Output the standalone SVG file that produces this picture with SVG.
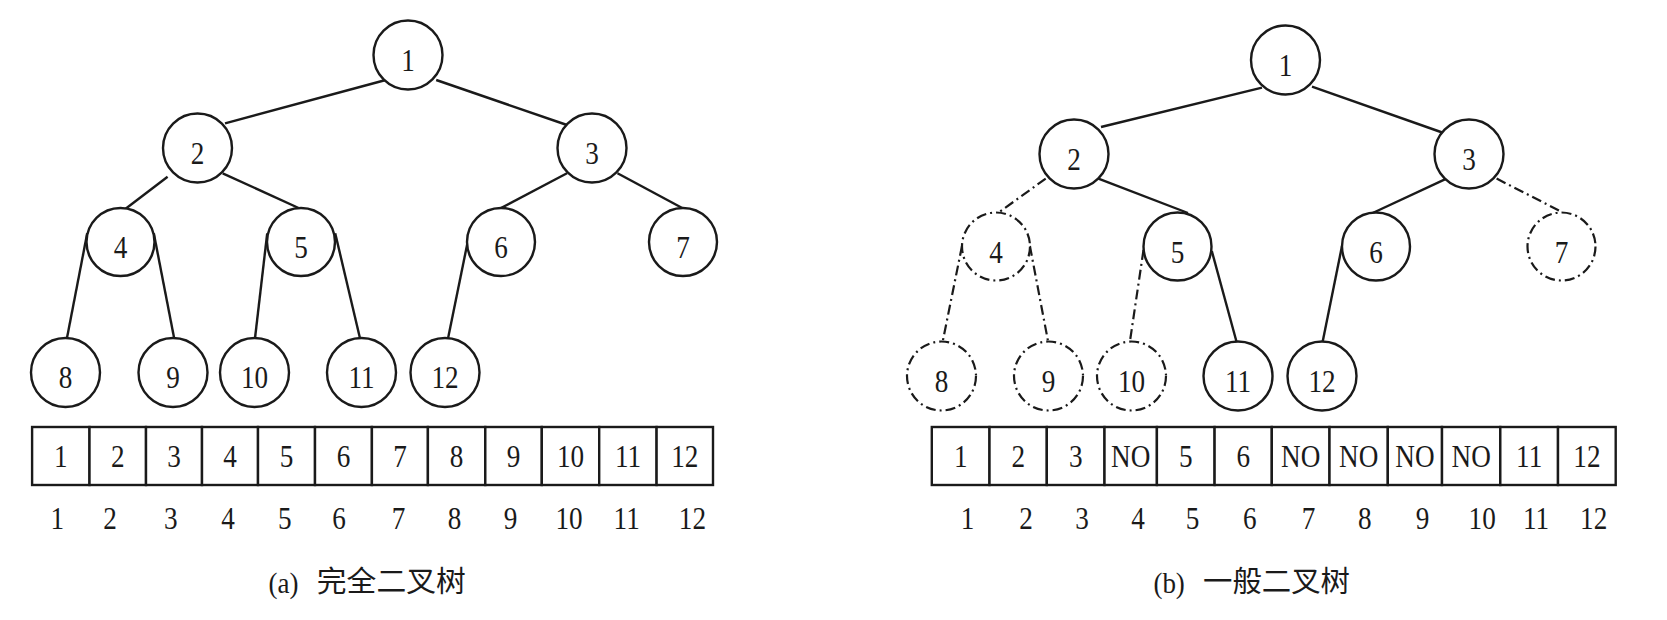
<svg xmlns="http://www.w3.org/2000/svg" width="1667" height="620" viewBox="0 0 1667 620">
<style>
.n{fill:#fff;stroke:#1a1a1a;stroke-width:2.4}
.d{fill:#fff;stroke:#1a1a1a;stroke-width:2.2;stroke-dasharray:10 4 2 4}
.e{stroke:#1a1a1a;stroke-width:2.4;fill:none}
.ed{stroke:#1a1a1a;stroke-width:2.2;fill:none;stroke-dasharray:10 4 2 4}
.t{font-family:"Liberation Serif","Times New Roman",serif;font-size:32px;fill:#1a1a1a;text-anchor:middle}
.c{fill:#fff;stroke:#1a1a1a;stroke-width:2.4}
.cap{font-family:"Liberation Serif",serif;font-size:30px;fill:#1a1a1a}
.cj{font-family:"Noto Sans CJK SC","Noto Sans",sans-serif;font-size:29px;fill:#1a1a1a}
</style>
<rect width="1667" height="620" fill="#fff"/>

<!-- Left tree connectors -->
<g id="edges-a">
<line class="e" x1="385.7" y1="80" x2="225" y2="123.3"/>
<line class="e" x1="436.2" y1="80" x2="567" y2="125"/>
<line class="e" x1="167.6" y1="176.7" x2="124" y2="210"/>
<line class="e" x1="222.7" y1="173.3" x2="303" y2="210"/>
<line class="e" x1="567" y1="173.3" x2="500.5" y2="208.3"/>
<line class="e" x1="617.5" y1="173.3" x2="682.7" y2="208.3"/>
<line class="e" x1="87.2" y1="233.3" x2="66.6" y2="340"/>
<line class="e" x1="153.8" y1="233.3" x2="174.5" y2="340"/>
<line class="e" x1="267.2" y1="233.3" x2="254.8" y2="340"/>
<line class="e" x1="335.2" y1="233.3" x2="360.4" y2="340"/>
<line class="e" x1="467.4" y1="243.3" x2="447.7" y2="340"/>
</g>

<!-- Right tree connectors -->
<g id="edges-b">
<line class="e" x1="1262" y1="87.7" x2="1101" y2="127"/>
<line class="e" x1="1312" y1="86.7" x2="1446.5" y2="134"/>
<line class="ed" x1="1045.7" y1="178.6" x2="998" y2="213"/>
<line class="e" x1="1098.4" y1="178.6" x2="1188" y2="213"/>
<line class="e" x1="1446.5" y1="178.6" x2="1372.7" y2="213"/>
<line class="ed" x1="1496.6" y1="178.6" x2="1560" y2="211"/>
<line class="ed" x1="962" y1="246" x2="942.8" y2="341"/>
<line class="ed" x1="1029.9" y1="246" x2="1048" y2="341"/>
<line class="ed" x1="1143.5" y1="250" x2="1130" y2="341"/>
<line class="e" x1="1211.8" y1="251" x2="1236.6" y2="342"/>
<line class="e" x1="1342" y1="246" x2="1322.6" y2="342"/>
</g>

<!-- Left tree nodes -->
<g id="a1"><circle class="n" cx="408" cy="55" r="34.5"/><text class="t" transform="translate(408 71) scale(0.85 1)">1</text></g>
<g id="a2"><circle class="n" cx="197.5" cy="148" r="34.5"/><text class="t" transform="translate(197.5 164) scale(0.85 1)">2</text></g>
<g id="a3"><circle class="n" cx="592" cy="148" r="34.5"/><text class="t" transform="translate(592 164) scale(0.85 1)">3</text></g>
<g id="a4"><circle class="n" cx="120.5" cy="242" r="34"/><text class="t" transform="translate(120.5 258) scale(0.85 1)">4</text></g>
<g id="a5"><circle class="n" cx="301" cy="242" r="34"/><text class="t" transform="translate(301 258) scale(0.85 1)">5</text></g>
<g id="a6"><circle class="n" cx="501" cy="242" r="34"/><text class="t" transform="translate(501 258) scale(0.85 1)">6</text></g>
<g id="a7"><circle class="n" cx="683" cy="242" r="34"/><text class="t" transform="translate(683 258) scale(0.85 1)">7</text></g>
<g id="a8"><circle class="n" cx="65.5" cy="372.5" r="34.5"/><text class="t" transform="translate(65.5 388) scale(0.85 1)">8</text></g>
<g id="a9"><circle class="n" cx="173" cy="372.5" r="34.5"/><text class="t" transform="translate(173 388) scale(0.85 1)">9</text></g>
<g id="a10"><circle class="n" cx="254.5" cy="372.5" r="34.5"/><text class="t" transform="translate(254.5 388) scale(0.85 1)">10</text></g>
<g id="a11"><circle class="n" cx="361.5" cy="372.5" r="34.5"/><text class="t" transform="translate(361.5 388) scale(0.85 1)">11</text></g>
<g id="a12"><circle class="n" cx="445" cy="372.5" r="34.5"/><text class="t" transform="translate(445 388) scale(0.85 1)">12</text></g>

<!-- Right tree nodes -->
<g id="b1"><circle class="n" cx="1285.5" cy="60" r="34.5"/><text class="t" transform="translate(1285.5 76) scale(0.85 1)">1</text></g>
<g id="b2"><circle class="n" cx="1074" cy="154" r="34.5"/><text class="t" transform="translate(1074 170) scale(0.85 1)">2</text></g>
<g id="b3"><circle class="n" cx="1469" cy="154" r="34.5"/><text class="t" transform="translate(1469 170) scale(0.85 1)">3</text></g>
<g id="b4"><circle class="d" cx="996" cy="246.5" r="34"/><text class="t" transform="translate(996 262.5) scale(0.85 1)">4</text></g>
<g id="b5"><circle class="n" cx="1177.5" cy="246.5" r="34"/><text class="t" transform="translate(1177.5 262.5) scale(0.85 1)">5</text></g>
<g id="b6"><circle class="n" cx="1376" cy="246.5" r="34"/><text class="t" transform="translate(1376 262.5) scale(0.85 1)">6</text></g>
<g id="b7"><circle class="d" cx="1561.5" cy="246.5" r="34"/><text class="t" transform="translate(1561.5 262.5) scale(0.85 1)">7</text></g>
<g id="b8"><circle class="d" cx="941.5" cy="376" r="34.5"/><text class="t" transform="translate(941.5 392) scale(0.85 1)">8</text></g>
<g id="b9"><circle class="d" cx="1048.5" cy="376" r="34.5"/><text class="t" transform="translate(1048.5 392) scale(0.85 1)">9</text></g>
<g id="b10"><circle class="d" cx="1131.5" cy="376" r="34.5"/><text class="t" transform="translate(1131.5 392) scale(0.85 1)">10</text></g>
<g id="b11"><circle class="n" cx="1238" cy="376" r="34.5"/><text class="t" transform="translate(1238 392) scale(0.85 1)">11</text></g>
<g id="b12"><circle class="n" cx="1322" cy="376" r="34.5"/><text class="t" transform="translate(1322 392) scale(0.85 1)">12</text></g>

<!-- Left array -->
<g id="array-a">
<rect class="c" x="32.1" y="427" width="57.4" height="58"/>
<rect class="c" x="89.5" y="427" width="56.5" height="58"/>
<rect class="c" x="146" y="427" width="56" height="58"/>
<rect class="c" x="202" y="427" width="56" height="58"/>
<rect class="c" x="258" y="427" width="57" height="58"/>
<rect class="c" x="315" y="427" width="56.9" height="58"/>
<rect class="c" x="371.9" y="427" width="56" height="58"/>
<rect class="c" x="427.9" y="427" width="57.4" height="58"/>
<rect class="c" x="485.3" y="427" width="56.5" height="58"/>
<rect class="c" x="541.8" y="427" width="57.4" height="58"/>
<rect class="c" x="599.2" y="427" width="57.4" height="58"/>
<rect class="c" x="656.6" y="427" width="56.4" height="58"/>
<text class="t" transform="translate(60.8 467) scale(0.85 1)">1</text>
<text class="t" transform="translate(117.8 467) scale(0.85 1)">2</text>
<text class="t" transform="translate(174 467) scale(0.85 1)">3</text>
<text class="t" transform="translate(230 467) scale(0.85 1)">4</text>
<text class="t" transform="translate(286.5 467) scale(0.85 1)">5</text>
<text class="t" transform="translate(343.5 467) scale(0.85 1)">6</text>
<text class="t" transform="translate(400 467) scale(0.85 1)">7</text>
<text class="t" transform="translate(456.6 467) scale(0.85 1)">8</text>
<text class="t" transform="translate(513.5 467) scale(0.85 1)">9</text>
<text class="t" transform="translate(570.5 467) scale(0.85 1)">10</text>
<text class="t" transform="translate(628 467) scale(0.85 1)">11</text>
<text class="t" transform="translate(684.8 467) scale(0.85 1)">12</text>
</g>
<g id="index-a">
<text class="t" transform="translate(57.4 529) scale(0.85 1)">1</text>
<text class="t" transform="translate(110 529) scale(0.85 1)">2</text>
<text class="t" transform="translate(170.8 529) scale(0.85 1)">3</text>
<text class="t" transform="translate(228 529) scale(0.85 1)">4</text>
<text class="t" transform="translate(284.7 529) scale(0.85 1)">5</text>
<text class="t" transform="translate(339 529) scale(0.85 1)">6</text>
<text class="t" transform="translate(398.5 529) scale(0.85 1)">7</text>
<text class="t" transform="translate(454.5 529) scale(0.85 1)">8</text>
<text class="t" transform="translate(510.6 529) scale(0.85 1)">9</text>
<text class="t" transform="translate(569 529) scale(0.85 1)">10</text>
<text class="t" transform="translate(626.7 529) scale(0.85 1)">11</text>
<text class="t" transform="translate(692.4 529) scale(0.85 1)">12</text>
</g>

<!-- Right array -->
<g id="array-b">
<rect class="c" x="931.8" y="427" width="57.7" height="58"/>
<rect class="c" x="989.5" y="427" width="57.3" height="58"/>
<rect class="c" x="1046.8" y="427" width="57.7" height="58"/>
<rect class="c" x="1104.5" y="427" width="52.4" height="58"/>
<rect class="c" x="1156.9" y="427" width="57.7" height="58"/>
<rect class="c" x="1214.6" y="427" width="57.2" height="58"/>
<rect class="c" x="1271.8" y="427" width="57.7" height="58"/>
<rect class="c" x="1329.5" y="427" width="58.3" height="58"/>
<rect class="c" x="1387.8" y="427" width="54.2" height="58"/>
<rect class="c" x="1442" y="427" width="58.3" height="58"/>
<rect class="c" x="1500.3" y="427" width="57.7" height="58"/>
<rect class="c" x="1558" y="427" width="57.7" height="58"/>
<text class="t" transform="translate(960.7 467) scale(0.85 1)">1</text>
<text class="t" transform="translate(1018.2 467) scale(0.85 1)">2</text>
<text class="t" transform="translate(1075.7 467) scale(0.85 1)">3</text>
<text class="t" transform="translate(1130.7 467) scale(0.85 1)">NO</text>
<text class="t" transform="translate(1185.8 467) scale(0.85 1)">5</text>
<text class="t" transform="translate(1243.2 467) scale(0.85 1)">6</text>
<text class="t" transform="translate(1300.7 467) scale(0.85 1)">NO</text>
<text class="t" transform="translate(1358.7 467) scale(0.85 1)">NO</text>
<text class="t" transform="translate(1414.9 467) scale(0.85 1)">NO</text>
<text class="t" transform="translate(1471.2 467) scale(0.85 1)">NO</text>
<text class="t" transform="translate(1529.2 467) scale(0.85 1)">11</text>
<text class="t" transform="translate(1586.9 467) scale(0.85 1)">12</text>
</g>
<g id="index-b">
<text class="t" transform="translate(967.5 529) scale(0.85 1)">1</text>
<text class="t" transform="translate(1026 529) scale(0.85 1)">2</text>
<text class="t" transform="translate(1082 529) scale(0.85 1)">3</text>
<text class="t" transform="translate(1138 529) scale(0.85 1)">4</text>
<text class="t" transform="translate(1192.6 529) scale(0.85 1)">5</text>
<text class="t" transform="translate(1249.8 529) scale(0.85 1)">6</text>
<text class="t" transform="translate(1308.5 529) scale(0.85 1)">7</text>
<text class="t" transform="translate(1364.8 529) scale(0.85 1)">8</text>
<text class="t" transform="translate(1422.5 529) scale(0.85 1)">9</text>
<text class="t" transform="translate(1482.2 529) scale(0.85 1)">10</text>
<text class="t" transform="translate(1536 529) scale(0.85 1)">11</text>
<text class="t" transform="translate(1593.7 529) scale(0.85 1)">12</text>
</g>

<!-- Captions -->
<g id="caption-a">
<text class="cap" transform="translate(268.6 593) scale(0.9 1)">(a)</text>
<text class="cj" x="316.8" y="592" textLength="149" lengthAdjust="spacingAndGlyphs">完全二叉树</text>
</g>
<g id="caption-b">
<text class="cap" transform="translate(1153.4 593) scale(0.9 1)">(b)</text>
<text class="cj" x="1203" y="592" textLength="147" lengthAdjust="spacingAndGlyphs">一般二叉树</text>
</g>
</svg>
